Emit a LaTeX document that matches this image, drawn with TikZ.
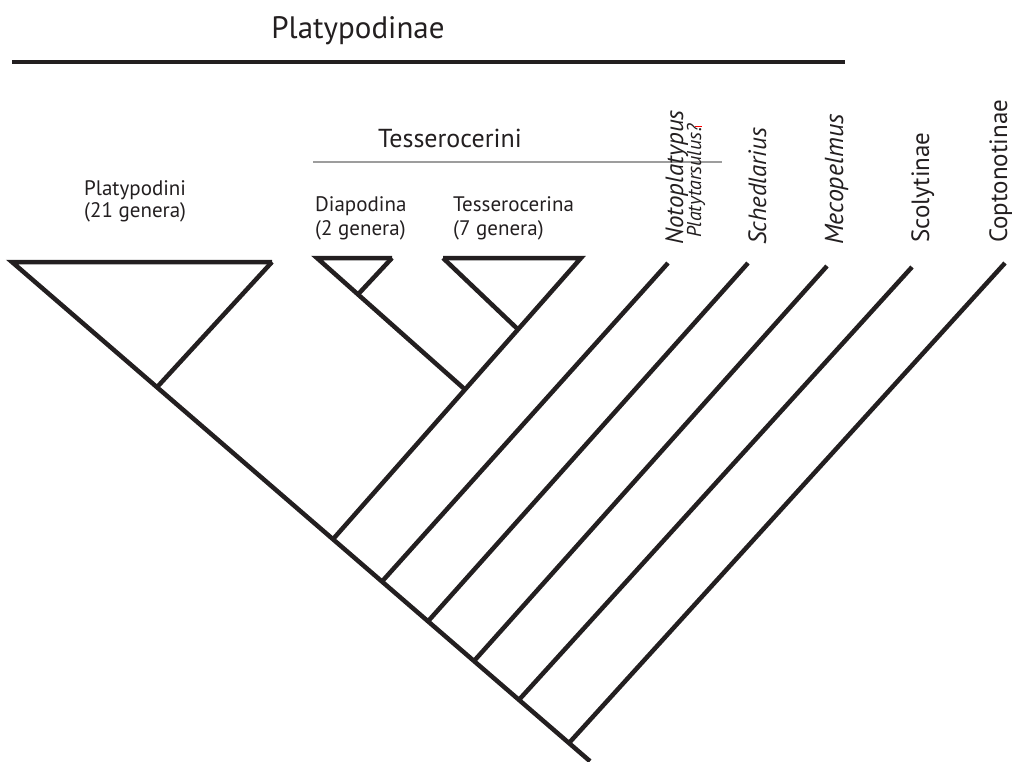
\documentclass[tikz,border=0pt]{standalone}
\usepackage{fontspec}
\setmainfont{PT Sans}
\definecolor{ink}{HTML}{231F20}
\definecolor{rule}{HTML}{9D9D9D}
\tikzset{
  branch/.style={draw=ink, line width=4.5pt, line join=miter},
  toprule/.style={draw=ink, line width=3.5pt},
  thinrule/.style={draw=rule, line width=1.4pt},
  lab/.style={inner sep=0pt, text=ink},
  vlab/.style={lab, rotate=90, anchor=base west},
}
\begin{document}
\begin{tikzpicture}[x=1pt,y=-1pt]
\useasboundingbox (0,0) rectangle (1014,761);
% main spine coordinates
\coordinate (P0) at (12,262);
\coordinate (PR) at (272,262);
\coordinate (j0) at (157,387.2);
\coordinate (j1) at (333,539.2);
\coordinate (j2) at (382,581.5);
\coordinate (j3) at (428,621.3);
\coordinate (j4) at (474,661);
\coordinate (j5) at (519,699.8);
\coordinate (j6) at (569,743);
\coordinate (E) at (590,761.2);
% Tesserocerini
\coordinate (DL) at (317,258);
\coordinate (DR) at (392,258);
\coordinate (D) at (358,294.4);
\coordinate (T) at (465,389.5);
\coordinate (TL) at (443,258);
\coordinate (TR) at (581,258);
\coordinate (A) at (518,329.4);
% tips
\coordinate (noto) at (668,263);
\coordinate (sched) at (748,263);
\coordinate (meco) at (827,266);
\coordinate (scol) at (912,267);
\coordinate (copt) at (1005,263);
% rules
\coordinate (r1) at (12,62);
\coordinate (r2) at (845,62);
\coordinate (g1) at (313,162);
\coordinate (g2) at (722,162);

\draw[toprule] (r1) -- (r2);
\draw[thinrule] (g1) -- (g2);

% tree
\draw[branch] (PR) -- (P0) -- (E);
\draw[branch] (PR) -- (j0);
\draw[branch] (DR) -- (DL) -- (T);
\draw[branch] (DR) -- (D);
\draw[branch] (TL) -- (TR) -- (j1);
\draw[branch] (TL) -- (A);
\draw[branch] (noto) -- (j2);
\draw[branch] (sched) -- (j3);
\draw[branch] (meco) -- (j4);
\draw[branch] (scol) -- (j5);
\draw[branch] (copt) -- (j6);

% labels
\node[lab, anchor=base, font=\fontsize{31}{31}\selectfont] (platypodinae) at (358,38) {Platypodinae};
\node[lab, anchor=base, font=\fontsize{26}{26}\selectfont] (tesserocerini) at (450,147) {Tesserocerini};
\node[lab, anchor=base west, font=\fontsize{21}{21}\selectfont] (platypodini) at (84,195) {Platypodini};
\node[lab, anchor=base west, font=\fontsize{21}{21}\selectfont] (g21) at (84,217) {(21 genera)};
\node[lab, anchor=base west, font=\fontsize{21}{21}\selectfont] (diapodina) at (315,211) {Diapodina};
\node[lab, anchor=base west, font=\fontsize{21}{21}\selectfont] (g2) at (315,235) {(2 genera)};
\node[lab, anchor=base west, font=\fontsize{21}{21}\selectfont] (tesserocerina) at (453,211) {Tesserocerina};
\node[lab, anchor=base west, font=\fontsize{21}{21}\selectfont] (g7) at (453,235) {(7 genera)};
\node[vlab, font=\fontsize{25}{25}\selectfont\itshape] (notol) at (683,245) {Notoplatypus};
\node[vlab, font=\fontsize{20}{20}\selectfont\itshape] (platyl) at (701,238) {Platytarsulus?};
\draw[red, line width=0.9pt] (695,126) -- (702,126);
\node[vlab, font=\fontsize{25}{25}\selectfont\itshape] (schedl) at (766,245) {Schedlarius};
\node[vlab, font=\fontsize{26}{26}\selectfont\itshape] (mecol) at (843,245) {Mecopelmus};
\node[vlab, font=\fontsize{25}{25}\selectfont] (scoll) at (929,243) {Scolytinae};
\node[vlab, font=\fontsize{25}{25}\selectfont] (coptl) at (1007,243) {Coptonotinae};
\end{tikzpicture}
\end{document}
